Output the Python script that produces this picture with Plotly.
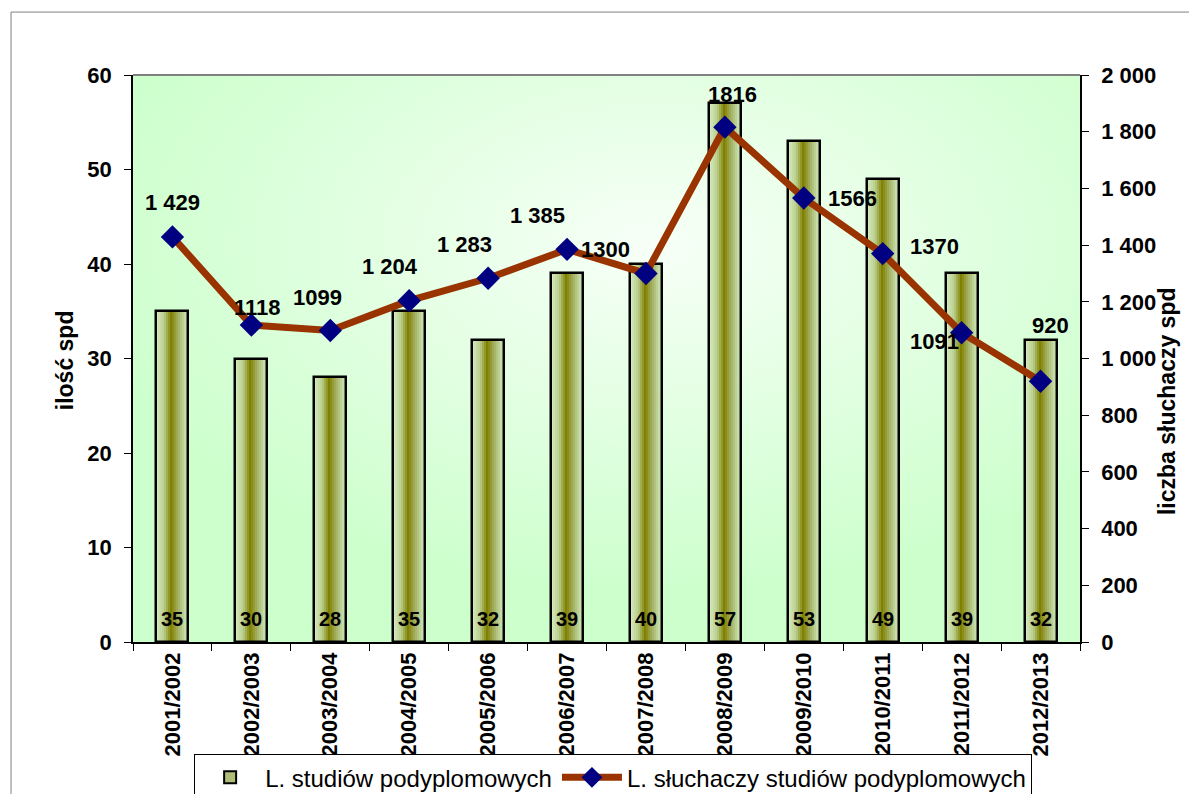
import base64
import plotly.graph_objects as go

# ---------------- data ----------------
years = ["2001/2002", "2002/2003", "2003/2004", "2004/2005", "2005/2006", "2006/2007",
         "2007/2008", "2008/2009", "2009/2010", "2010/2011", "2011/2012", "2012/2013"]
studies_count = [35, 30, 28, 35, 32, 39, 40, 57, 53, 49, 39, 32]
listeners_count = [1429, 1118, 1099, 1204, 1283, 1385, 1300, 1816, 1566, 1370, 1091, 920]
listeners_labels = ["1 429", "1118", "1099", "1 204", "1 283", "1 385", "1300",
                    "1816", "1566", "1370", "1091", "920"]

bar_name = "L. studiów podyplomowych"
line_name = "L. słuchaczy studiów podyplomowych"

# ---------------- style ----------------
FONT = "Arial, Liberation Sans, sans-serif"
BAR_W = 0.405
N_STRIPS = 16
label_dx = [0, 6, -13, -19, -24, -30, -40, 8, 49, 52, -27, 10]
label_dy = [-34, -18, -33, -34, -34, -34, -24, -33, 0, -7, 9, -56]

grad_stops = [
    (0.0, (214, 238, 194)),
    (0.25, (186, 206, 142)),
    (0.47, (128, 128, 0)),
    (0.68, (162, 174, 94)),
    (1.0, (214, 240, 198)),
]


def grad_color(t):
    for (t0, c0), (t1, c1) in zip(grad_stops[:-1], grad_stops[1:]):
        if t0 <= t <= t1:
            f = (t - t0) / (t1 - t0)
            c = tuple(round(a + (b - a) * f) for a, b in zip(c0, c1))
            return "rgb(%d,%d,%d)" % c
    return "rgb(%d,%d,%d)" % grad_stops[-1][1]


fig = go.Figure()

sw = BAR_W / N_STRIPS
for k in range(N_STRIPS):
    t = (k + 0.5) / N_STRIPS
    fig.add_trace(go.Bar(
        x=years, y=studies_count,
        width=sw * 1.2 if k < N_STRIPS - 1 else sw,
        offset=-BAR_W / 2 + k * sw,
        marker=dict(color=grad_color(t), line=dict(width=0)),
        showlegend=False, hoverinfo="skip", yaxis="y",
    ))

# outline of bars
fig.add_trace(go.Bar(
    x=years, y=studies_count, width=BAR_W, offset=-BAR_W / 2,
    marker=dict(color="rgba(0,0,0,0)", line=dict(color="black", width=2.5)),
    showlegend=False, yaxis="y",
))

# legend entry for bars
fig.add_trace(go.Bar(
    x=years, y=[None] * len(years), name=bar_name,
    marker=dict(color="#b0bd78", line=dict(color="black", width=2)),
    showlegend=True, yaxis="y",
))

# line
fig.add_trace(go.Scatter(
    x=years, y=listeners_count, name=line_name, yaxis="y2",
    mode="lines+markers",
    line=dict(color="#993300", width=7),
    marker=dict(symbol="diamond", size=18, color="#000080"),
))

annotations = []
for i, (yr, v) in enumerate(zip(years, studies_count)):
    annotations.append(dict(
        x=yr, y=0, xref="x", yref="y", text=str(v), showarrow=False,
        yanchor="bottom", yshift=10,
        font=dict(family=FONT, size=20, color="black", weight="bold"),
    ))
for i, (yr, v, lab) in enumerate(zip(years, listeners_count, listeners_labels)):
    annotations.append(dict(
        x=yr, y=v, xref="x", yref="y2", text=lab, showarrow=False,
        xshift=label_dx[i], yshift=-label_dy[i],
        font=dict(family=FONT, size=22, color="black", weight="bold"),
    ))
annotations.append(dict(
    x=-0.0876, y=0.497, xref="paper", yref="paper", text="ilość spd",
    textangle=-90, showarrow=False,
    font=dict(family=FONT, size=23, color="black", weight="bold"),
))
annotations.append(dict(
    x=1.1077, y=0.425, xref="paper", yref="paper", text="liczba słuchaczy spd",
    textangle=-90, showarrow=False,
    font=dict(family=FONT, size=23, color="black", weight="bold"),
))

svg = ('<svg xmlns="http://www.w3.org/2000/svg" width="200" height="200" '
       'preserveAspectRatio="none"><defs><radialGradient id="g" cx="0.55" cy="0.3" r="0.62">'
       '<stop offset="0" stop-color="#f7fff7"/><stop offset="1" stop-color="#ccffcc"/>'
       '</radialGradient></defs><rect width="200" height="200" fill="url(#g)"/></svg>')
bg_src = "data:image/svg+xml;base64," + base64.b64encode(svg.encode()).decode()

# the page adds an 8px body margin, so the figure is 8px smaller and margins compensate
fig.update_layout(
    width=1189, height=786,
    margin=dict(l=125, r=117, t=67, b=152, autoexpand=False),
    paper_bgcolor="white", plot_bgcolor="#ccffcc",
    barmode="overlay", bargap=0,
    separators=", ",
    font=dict(family=FONT, color="black"),
    images=[dict(source=bg_src, xref="paper", yref="paper", x=0, y=1,
                 sizex=1, sizey=1, sizing="stretch", layer="below",
                 xanchor="left", yanchor="top")],
    xaxis=dict(
        type="category", tickangle=-90, showgrid=False, automargin=False,
        range=[-0.5, len(years) - 0.5],
        tickfont=dict(family=FONT, size=22, color="black", weight="bold"),
        ticks="outside", tickson="boundaries", ticklen=7, tickcolor="black",
        showline=True, linecolor="black", linewidth=1.5,
    ),
    yaxis=dict(
        range=[0, 60], dtick=10, showgrid=False, zeroline=False, automargin=False,
        tickfont=dict(family=FONT, size=22, color="black", weight="bold"),
        ticks="outside", ticklen=7, tickcolor="black", ticklabelstandoff=8,
        showline=True, linecolor="black", linewidth=1.5,
    ),
    yaxis2=dict(
        range=[0, 2000], dtick=200, overlaying="y", side="right",
        showgrid=False, zeroline=False, separatethousands=True, automargin=False,
        tickfont=dict(family=FONT, size=22, color="black", weight="bold"),
        ticks="outside", ticklen=7, tickcolor="black", ticklabelstandoff=8,
        showline=True, linecolor="black", linewidth=1.5,
    ),
    legend=dict(
        orientation="h", x=0.507, xanchor="center", y=-0.198, yanchor="top",
        bgcolor="white", bordercolor="black", borderwidth=1,
        font=dict(family=FONT, size=24, color="black"),
        traceorder="normal", itemwidth=60, tracegroupgap=0,
    ),
    annotations=annotations,
    shapes=[
        dict(type="line", xref="paper", yref="paper", x0=0, x1=1, y0=1, y1=1,
             line=dict(color="#808080", width=2)),
        dict(type="rect", xref="paper", yref="paper", x0=-0.1288, x1=1.2,
             y0=-0.4, y1=1.111, line=dict(color="#808080", width=1),
             fillcolor="rgba(0,0,0,0)", layer="below"),
    ],
)

fig.write_html("out.html")
